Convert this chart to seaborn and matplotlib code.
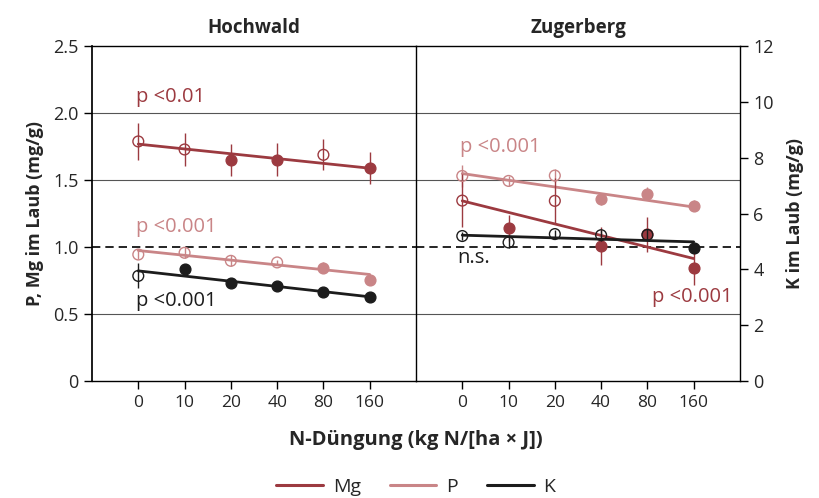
import numpy as np
import pandas as pd
import matplotlib
matplotlib.use("Agg")
import matplotlib.pyplot as plt
from matplotlib.lines import Line2D
import seaborn as sns

# N-Düngung categories
n_levels = ["0", "10", "20", "40", "80", "160"]
sites = ["Hochwald", "Zugerberg"]

# Hochwald (P, Mg in mg/g; K in mg/g on right scale)
hw_mg = [1.79, 1.73, 1.65, 1.655, 1.69, 1.59]
hw_mg_err = [0.135, 0.12, 0.12, 0.12, 0.115, 0.12]
hw_mg_open = [1, 1, 0, 0, 1, 0]
hw_mg_fit = [1.77, 1.59]

hw_p = [0.945, 0.958, 0.898, 0.886, 0.848, 0.754]
hw_p_err = [0.03, 0.04, 0.04, 0.02, 0.04, 0.04]
hw_p_open = [1, 1, 1, 1, 0, 0]
hw_p_fit = [0.975, 0.796]

hw_k = [3.77, 4.02, 3.51, 3.40, 3.19, 3.01]
hw_k_err = [0.45, 0.15, 0.1, 0.1, 0.1, 0.1]
hw_k_open = [1, 0, 0, 0, 0, 0]
hw_k_fit = [3.95, 3.02]

# Zugerberg
zb_mg = [1.348, 1.144, 1.346, 1.01, 1.095, 0.841]
zb_mg_err = [0.2, 0.1, 0.17, 0.14, 0.13, 0.12]
zb_mg_open = [1, 0, 1, 0, 0, 0]
zb_mg_fit = [1.346, 0.915]

zb_p = [1.532, 1.495, 1.535, 1.358, 1.40, 1.31]
zb_p_err = [0.08, 0.04, 0.05, 0.04, 0.05, 0.04]
zb_p_open = [1, 1, 1, 0, 0, 0]
zb_p_fit = [1.55, 1.30]

zb_k = [5.2, 4.97, 5.27, 5.23, 5.24, 4.78]
zb_k_err = [0.15, 0.2, 0.15, 0.2, 0.2, 0.1]
zb_k_open = [1, 1, 1, 1, 1, 0]
zb_k_fit = [5.23, 4.99]

colors = {"Mg": "#9c3a40", "P": "#c98587", "K": "#1c1c1c"}

# p-value labels: (site, element, x position, y value, text)
labels = [
    ("Hochwald", "Mg", -0.05, 2.12, "p <0.01"),
    ("Hochwald", "P", -0.05, 1.15, "p <0.001"),
    ("Hochwald", "K", -0.05, 0.60, "p <0.001"),
    ("Zugerberg", "P", -0.05, 1.75, "p <0.001"),
    ("Zugerberg", "K", -0.1, 0.92, "n.s."),
    ("Zugerberg", "Mg", 4.1, 0.63, "p <0.001"),
]

series = {
    ("Hochwald", "Mg"): (hw_mg, hw_mg_err, hw_mg_open, hw_mg_fit),
    ("Hochwald", "P"): (hw_p, hw_p_err, hw_p_open, hw_p_fit),
    ("Hochwald", "K"): (hw_k, hw_k_err, hw_k_open, hw_k_fit),
    ("Zugerberg", "Mg"): (zb_mg, zb_mg_err, zb_mg_open, zb_mg_fit),
    ("Zugerberg", "P"): (zb_p, zb_p_err, zb_p_open, zb_p_fit),
    ("Zugerberg", "K"): (zb_k, zb_k_err, zb_k_open, zb_k_fit),
}

rows = []
for (site, elem), (vals, errs, opens, _) in series.items():
    for i, lvl in enumerate(n_levels):
        rows.append({"site": site, "element": elem, "pos": i, "N": lvl,
                     "value": vals[i], "err": errs[i], "open": bool(opens[i])})
df = pd.DataFrame(rows)

sns.set_theme(style="white")
plt.rcParams["font.family"] = ["Open Sans", "DejaVu Sans"]

fig, axes = plt.subplots(1, 2, figsize=(8.2, 4.98), dpi=100, sharey=True)
fig.subplots_adjust(left=0.1122, right=0.9024, top=0.9068, bottom=0.2349, wspace=0)

twins = []
for ax, site in zip(axes, sites):
    ax.set_xlim(-1, 6)
    ax.set_ylim(0, 2.5)
    for g in [0.5, 1.5, 2.0]:
        ax.axhline(g, color="#555555", lw=0.8, zorder=0)
    ax.axhline(1.0, color="black", lw=1.2, ls=(0, (5, 3)), zorder=0.5)

    axk = ax.twinx()
    axk.set_ylim(0, 12)
    twins.append(axk)

    for elem in ["P", "K", "Mg"]:
        target = axk if elem == "K" else ax
        sub = df[(df.site == site) & (df.element == elem)]
        col = colors[elem]
        fit = series[(site, elem)][3]
        fit_df = pd.DataFrame({"pos": [0, 5], "value": fit})
        sns.lineplot(data=fit_df, x="pos", y="value", ax=target, color=col,
                     lw=2.0, legend=False, zorder=2)
        target.errorbar(sub["pos"], sub["value"], yerr=sub["err"], fmt="none",
                        ecolor=col, elinewidth=1.0, capsize=0, zorder=3)
        filled = sub[~sub["open"]]
        hollow = sub[sub["open"]]
        sns.scatterplot(data=filled, x="pos", y="value", ax=target, color=col,
                        edgecolor=col, s=60, linewidth=1.0, legend=False, zorder=4)
        sns.scatterplot(data=hollow, x="pos", y="value", ax=target, facecolor="none",
                        edgecolor=col, s=60, linewidth=1.0, legend=False, zorder=4)
        target.set_xlabel("")
        target.set_ylabel("")

    for s, elem, xp, yv, txt in labels:
        if s == site:
            ax.text(xp, yv, txt, color=colors[elem], fontsize=14.5, va="center", ha="left")

    for sp in ax.spines.values():
        sp.set_visible(False)
    for sp in ["top", "bottom"]:
        ax.spines[sp].set_visible(True)
        ax.spines[sp].set_color("black")
        ax.spines[sp].set_linewidth(1.0)
    for sp in ["top", "bottom", "left"]:
        axk.spines[sp].set_visible(False)
    axk.spines["right"].set_visible(True)
    axk.spines["right"].set_color("black")
    axk.spines["right"].set_linewidth(1.0)
    ax.set_title(site, fontsize=13.5, fontweight="bold", pad=10)

for ax in axes:
    ax.set_xlim(-1, 6)
    ax.set_xticks(range(len(n_levels)))
    ax.set_xticklabels(n_levels, fontsize=12.5)
    ax.tick_params(axis="x", direction="out", length=6, width=1, color="black",
                   bottom=True, labelbottom=True, pad=4)

# left panel: P, Mg axis
axes[0].spines["left"].set_visible(True)
axes[0].spines["left"].set_color("black")
axes[0].set_yticks([0, 0.5, 1.0, 1.5, 2.0, 2.5])
axes[0].set_yticklabels(["0", "0.5", "1.0", "1.5", "2.0", "2.5"], fontsize=13)
axes[0].tick_params(axis="y", direction="out", length=6, width=1, color="black", left=True)
axes[0].set_ylabel("P, Mg im Laub (mg/g)", fontsize=13, fontweight="bold", labelpad=7)
axes[1].tick_params(axis="y", left=False)

twins[0].set_yticks([])  # divider only
axk_r = twins[1]
axk_r.set_yticks([0, 2, 4, 6, 8, 10, 12])
axk_r.set_yticklabels(["0", "2", "4", "6", "8", "10", "12"], fontsize=13)
axk_r.tick_params(axis="y", direction="out", length=6, width=1, color="black", right=True)
axk_r.set_ylabel("K im Laub (mg/g)", fontsize=13, fontweight="bold", labelpad=9,
                 rotation=90)

fig.text(0.507, 0.117, "N-Düngung (kg N/[ha × J])", ha="center", va="center",
         fontsize=14.5, fontweight="bold")

handles = [Line2D([0], [0], color=colors[e], lw=2.2) for e in ["Mg", "P", "K"]]
fig.legend(handles, ["Mg", "P", "K"], loc="center", bbox_to_anchor=(0.507, 0.022),
           ncol=3, frameon=False, fontsize=14, handlelength=2.4, columnspacing=1.5,
           handletextpad=0.5)

fig.savefig("out.png", dpi=100)
